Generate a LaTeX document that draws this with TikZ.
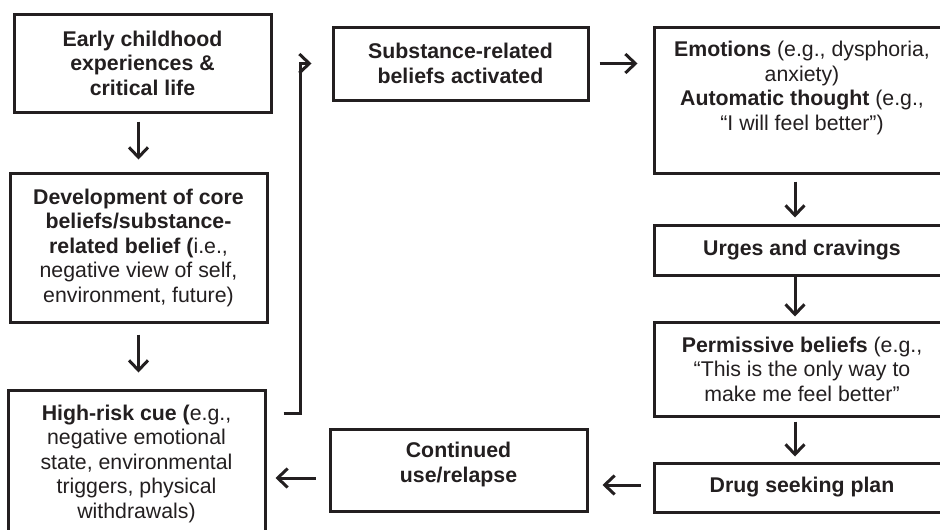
\documentclass[tikz,border=0pt]{standalone}
\usepackage{fontspec}
\setmainfont{Liberation Sans}
\usetikzlibrary{arrows.meta,calc}
\definecolor{ink}{RGB}{35,31,32}
\begin{document}
\begin{tikzpicture}[x=1pt,y=-1pt,
  txt/.style={inner sep=0pt, align=center, text=ink, font=\fontsize{21.3}{24.5}\selectfont},
  box/.style={txt, draw=ink, line width=3pt},
  arr/.style={draw=ink, line width=3pt, -{Straight Barb[length=10pt,width=19pt,line width=3pt]}}]
\clip (0,0) rectangle (940,530);
\fill[white] (0,0) rectangle (940,530);
% left column
\node[box, minimum width=257pt, minimum height=98pt] (b1) at (142.5,63)
  {\bfseries Early childhood\\\bfseries experiences \&\\\bfseries critical life};
\node[box, minimum width=257pt, minimum height=149pt] (b2) at (138.5,247.5)
  {\textbf{Development of core}\\\textbf{beliefs/substance-}\\\textbf{related belief (}i.e.,\\negative view of self,\\environment, future)};
\node[box, minimum width=257pt, minimum height=147pt] (b3) at (136.5,463.5)
  {\textbf{High-risk cue (}e.g.,\\negative emotional\\state, environmental\\triggers, physical\\withdrawals)};
% middle
\node[box, minimum width=255pt, minimum height=73pt] (b4) at (460.5,63.5)
  {\bfseries Substance-related\\\bfseries beliefs activated};
\node[box, minimum width=257pt, minimum height=82pt] (b9) at (458.5,470) {};
\node[txt] (t9) at (458.5,464.5) {\bfseries Continued\\\bfseries use/relapse};
% right column
\node[box, minimum width=296pt, minimum height=146pt] (b5) at (802,100) {};
\node[txt] (t5) at (802,88)
  {\textbf{Emotions} (e.g., dysphoria,\\anxiety)\\\textbf{Automatic thought} (e.g.,\\“I will feel better”)};
\node[box, minimum width=296pt, minimum height=50pt] (b6) at (802,250)
  {\bfseries Urges and cravings};
\node[box, minimum width=296pt, minimum height=94pt] (b7) at (802,369)
  {\textbf{Permissive beliefs} (e.g.,\\“This is the only way to\\make me feel better”};
\node[box, minimum width=296pt, minimum height=49pt] (b8) at (802,487.5)
  {\bfseries Drug seeking plan};
% connectors
\draw[arr] ($(b1.south -| b2.north)+(0,8)$) -- ($(b2.north)+(0,-12)$);
\draw[arr] ($(b2.south)+(0,11)$) -- ($(b3.north -| b2.south)+(0,-16)$);
\draw[arr] ($(b3.east)+(17,-50.5)$) -- ++(17,0) |- ($(b4.west)+(-20,0)$);
\draw[arr] ($(b4.east)+(10,0)$) -- ($(b4.east -| b5.west)+(-15,0)$);
\draw[arr] ($(b5.south)+(-7,7)$) -- ($(b6.north)+(-7,-6)$);
\draw[arr] ($(b6.south)+(-7,0)$) -- ($(b7.north)+(-7,-4)$);
\draw[arr] ($(b7.south)+(-7,4)$) -- ($(b8.north)+(-7,-5)$);
\draw[arr] ($(b8.west)+(-12,-2.5)$) -- ($(b9.east |- b8.west)+(14,-2.5)$);
\draw[arr] ($(b9.west)+(-13,8)$) -- ($(b3.east |- b9.west)+(9,8)$);
\end{tikzpicture}
\end{document}
